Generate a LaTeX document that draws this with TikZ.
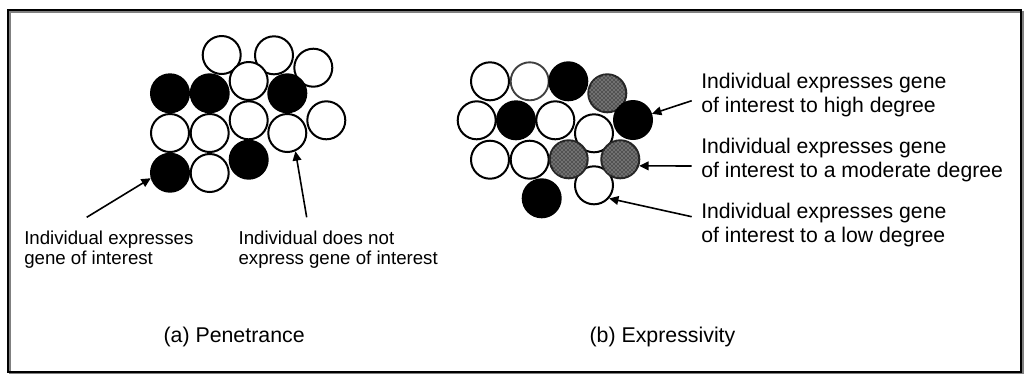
\documentclass[tikz,border=0pt]{standalone}
\usepackage{fontspec}
\setmainfont{Liberation Sans}
\usetikzlibrary{arrows.meta,patterns}
\begin{document}
\begin{tikzpicture}[x=0.75pt,y=-0.75pt,
  cell/.style={circle,draw=black,line width=1.5pt,minimum size=28.5pt,inner sep=0pt},
  wc/.style={cell,fill=white},
  bc/.style={cell,fill=black},
  gc/.style={cell,fill=black!68,draw=black!85},
  pc/.style={cell,fill=white,draw=black!75,line width=1.4pt},
  arr/.style={line width=1.2pt,-{Triangle[length=7pt,width=6.5pt]}},
  lbl/.style={inner sep=0pt,anchor=base west,align=left,font=\fontsize{14pt}{14.8pt}\selectfont},
  rlbl/.style={inner sep=0pt,anchor=base west,align=left,font=\fontsize{15.9pt}{18pt}\selectfont},
  captxt/.style={inner sep=0pt,anchor=base west,font=\fontsize{16pt}{18pt}\selectfont}]
\useasboundingbox (0,0) rectangle (1024,376);
% frame with shadow
\draw[gray,line width=1.5pt] (10,12) rectangle (1022.5,373);
\draw[black,line width=1.5pt] (8.3,10.3) rectangle (1021,371.7);
% (a) Penetrance circles
\node[wc] (a1) at (221.7,55) {};
\node[wc] (a2) at (274,55.3) {};
\node[wc] (a3) at (313.3,67.7) {};
\node[bc] (a4) at (170,93.3) {};
\node[bc] (a5) at (209.7,93.3) {};
\node[wc] (a6) at (248.7,81) {};
\node[bc] (a7) at (287.3,93.3) {};
\node[wc] (a8) at (170,133) {};
\node[wc] (a9) at (209.7,133) {};
\node[wc] (a10) at (248.7,120.3) {};
\node[wc] (a11) at (287.3,133) {};
\node[wc] (a12) at (326.3,120.3) {};
\node[bc] (a13) at (170,172.7) {};
\node[wc] (a14) at (209.7,173) {};
\node[bc] (a15) at (248.7,159.7) {};
% (b) Expressivity circles
\node[wc] (b1) at (490,81.3) {};
\node[pc] (b2) at (529.7,81.3) {};
\node[bc] (b3) at (568.3,81.3) {};
\node[gc] (b4) at (607.3,93.3) {};
\node[wc] (b5) at (476.7,120.3) {};
\node[bc] (b6) at (516,120.3) {};
\node[wc] (b7) at (555.3,120.3) {};
\node[wc] (b8) at (594,133.3) {};
\node[bc] (b9) at (633,120) {};
\node[wc] (b10) at (490,159.7) {};
\node[wc] (b11) at (529.7,159.7) {};
\node[wc] (b14) at (594,185.3) {};
\node[gc] (b12) at (568.7,159.3) {};
\node[gc] (b13) at (620.3,159.3) {};
\node[bc] (b15) at (541.7,198.3) {};
\foreach \n in {b4,b12,b13}{
  \fill[pattern=crosshatch dots,pattern color=white!70!gray] (\n.center) circle[radius=18.2];
}
% labels (a)
\node[lbl] (ta1) at (24,264.2) {Individual expresses\\gene of interest};
\node[lbl] (ta2) at (238.3,264.2) {Individual does not\\express gene of interest};
\coordinate (ta1t) at (86.7,217.3);
\coordinate (ta2t) at (306.7,217.3);
\draw[arr] (ta1t) -- (a13.196);
\draw[arr] (ta2t) -- (a11.-66);
% labels (b)
\node[rlbl] (tb1) at (701,112.3) {Individual expresses gene\\of interest to high degree};
\node[rlbl] (tb2) at (701,177.3) {Individual expresses gene\\of interest to a moderate degree};
\node[rlbl] (tb3) at (701,242.3) {Individual expresses gene\\of interest to a low degree};
\coordinate (tb1t) at (691.7,100.7);
\coordinate (tb2t) at (691.7,166);
\coordinate (tb3t) at (691.7,216.7);
\draw[arr] (tb1t) -- (b9.18);
\draw[arr] (tb2t) -- (b13.-19);
\draw[arr] (tb3t) -- (b14.-41);
% captions
\node[captxt] (capa) at (163.3,342.7) {(a) Penetrance};
\node[captxt] (capb) at (589.3,342.7) {(b) Expressivity};
\end{tikzpicture}
\end{document}
